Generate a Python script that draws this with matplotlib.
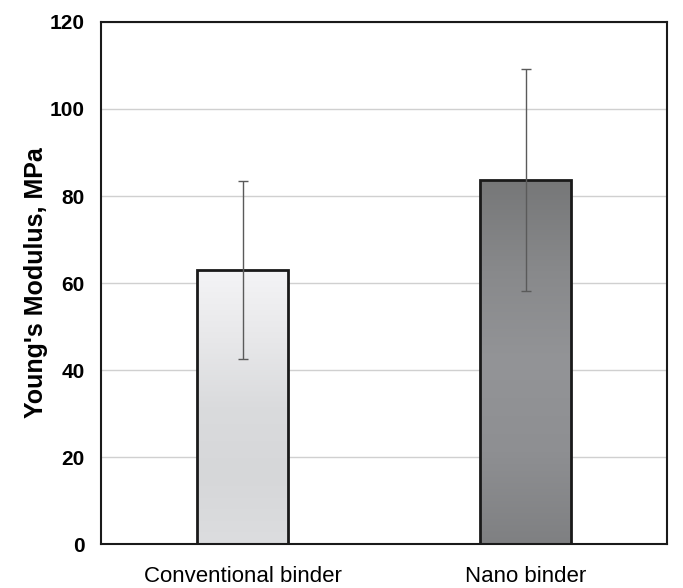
import numpy as np
import matplotlib.pyplot as plt
from matplotlib.colors import LinearSegmentedColormap

plt.rcParams['font.family'] = ['Liberation Sans', 'DejaVu Sans']

categories = ['Conventional binder', 'Nano binder']
modulus = [63.0, 83.7]
errors = [20.5, 25.5]

# gradient colours, top -> bottom
gradients = [
    ['#f4f4f6', '#e8e8ea', '#dadbdd', '#d6d7d9', '#dcdddf'],
    ['#767778', '#88898b', '#939497', '#8e8f92', '#7f8082'],
]

fig = plt.figure(figsize=(6.83, 5.88), dpi=100)
ax = fig.add_axes([0.148, 0.0748, 0.829, 0.8878])

x = np.arange(len(categories))
bars = ax.bar(x, modulus, width=0.32, facecolor='none', edgecolor='#1a1a1a',
              linewidth=2, zorder=3)

for bar, cols in zip(bars, gradients):
    cmap = LinearSegmentedColormap.from_list('g', cols)
    grad = np.linspace(0, 1, 256).reshape(-1, 1)
    bx, by = bar.get_x(), bar.get_y()
    w, h = bar.get_width(), bar.get_height()
    im = ax.imshow(grad, cmap=cmap, aspect='auto', origin='upper',
                   extent=(bx, bx + w, by, by + h), zorder=2)
    im.set_clip_path(bar)

ax.errorbar(x, modulus, yerr=errors, fmt='none', ecolor='#5a5a5a',
            elinewidth=1, capsize=3.5, capthick=1, zorder=4)

ax.set_xlim(-0.5, 1.5)
ax.set_ylim(0, 120)
ax.set_yticks(np.arange(0, 121, 20))
ax.set_xticks(x)
ax.set_xticklabels(categories, fontsize=16)
ax.tick_params(axis='both', length=0)
ax.tick_params(axis='y', pad=12)
ax.tick_params(axis='x', pad=16)
for lab in ax.get_yticklabels():
    lab.set_fontweight('bold')
    lab.set_fontsize(15)
ax.set_ylabel("Young's Modulus, MPa", fontsize=18, fontweight='bold', labelpad=1)

ax.yaxis.grid(True, color='#d0d0d0', linewidth=1)
ax.set_axisbelow(True)
for s in ax.spines.values():
    s.set_linewidth(1.5)
    s.set_color('#1a1a1a')

plt.savefig('out.png', dpi=100)
